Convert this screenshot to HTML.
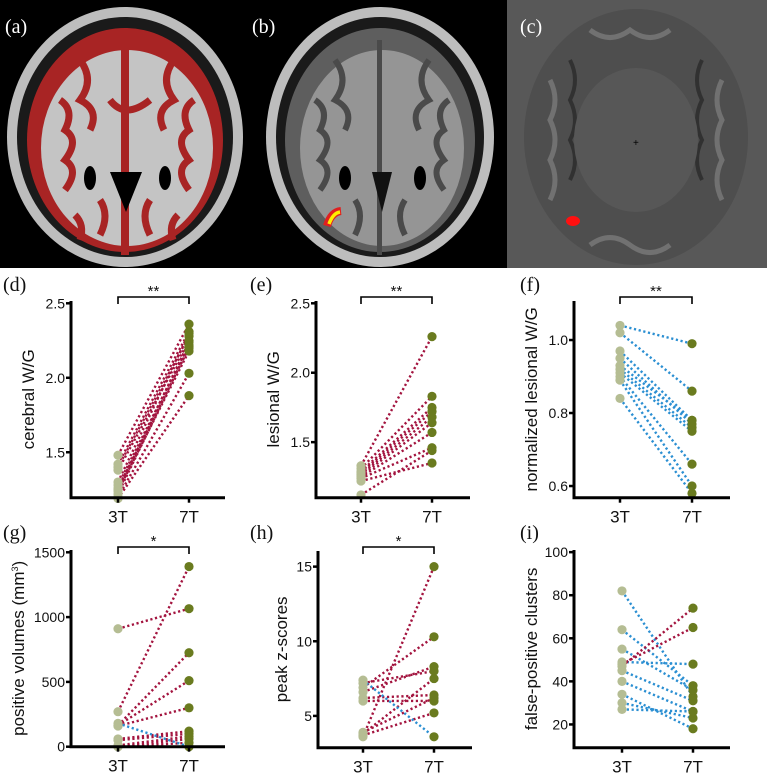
<!DOCTYPE html>
<html><head><meta charset="utf-8">
<style>
html,body{margin:0;padding:0;background:#fff;}
body{width:767px;height:781px;overflow:hidden;position:relative;font-family:"Liberation Sans",sans-serif;}
svg{position:absolute;left:0;top:0;}
</style></head>
<body>
<svg id="fig" width="767" height="781" viewBox="0 0 767 781">
  <g>
    <rect x="0" y="0" width="507" height="268" fill="#000"/>
    <rect x="507" y="0" width="260" height="268" fill="#585858"/>
    <!-- (a) -->
    <g>
      <ellipse cx="125" cy="137" rx="118" ry="130" fill="#bdbdbd"/>
      <ellipse cx="125" cy="137" rx="108" ry="120" fill="#1a1a1a"/>
      <ellipse cx="125" cy="140" rx="98" ry="112" fill="#a82424"/>
      <ellipse cx="127" cy="148" rx="86" ry="98" fill="#c4c4c4"/>
      <g stroke="#a82424" stroke-width="7" fill="none">
        <path d="M60 100 q15 10 5 30 q15 10 0 30 q15 10 0 30"/>
        <path d="M194 100 q-15 10 -5 30 q-15 10 0 30 q-15 10 0 30"/>
        <path d="M80 60 q15 20 0 40 q20 10 10 30"/>
        <path d="M174 60 q-15 20 0 40 q-20 10 -10 30"/>
        <path d="M100 200 q10 15 0 35"/><path d="M150 200 q-10 15 0 35"/>
        <path d="M75 215 q10 10 5 25"/><path d="M178 215 q-10 10 -5 25"/>
        <path d="M110 100 q15 20 40 0"/>
      </g>
      <rect x="121" y="40" width="8" height="215" fill="#a82424"/>
      <path d="M110 172 L126 212 L142 172 Z" fill="#000"/>
      <ellipse cx="90" cy="178" rx="6" ry="12" fill="#000"/>
      <ellipse cx="165" cy="178" rx="6" ry="12" fill="#000"/>
    </g>
    <!-- (b) -->
    <g>
      <ellipse cx="380" cy="137" rx="114" ry="130" fill="#bdbdbd"/>
      <ellipse cx="380" cy="137" rx="104" ry="120" fill="#1a1a1a"/>
      <ellipse cx="380" cy="140" rx="95" ry="112" fill="#5e5e5e"/>
      <ellipse cx="382" cy="148" rx="82" ry="98" fill="#959595"/>
      <g stroke="#4a4a4a" stroke-width="6" fill="none">
        <path d="M315 100 q15 10 5 30 q15 10 0 30 q15 10 0 30"/>
        <path d="M449 100 q-15 10 -5 30 q-15 10 0 30 q-15 10 0 30"/>
        <path d="M335 60 q15 20 0 40 q20 10 10 30"/>
        <path d="M429 60 q-15 20 0 40 q-20 10 -10 30"/>
        <path d="M355 200 q10 15 0 35"/><path d="M405 200 q-10 15 0 35"/>
      </g>
      <rect x="377" y="40" width="5" height="215" fill="#4a4a4a"/>
      <path d="M372 172 L382 212 L392 172 Z" fill="#111"/>
      <ellipse cx="345" cy="178" rx="6" ry="12" fill="#000"/>
      <ellipse cx="420" cy="178" rx="6" ry="12" fill="#000"/>
      <path d="M327 226 q4 -14 14 -15" stroke="#e02020" stroke-width="8" fill="none"/>
      <path d="M329 224 q4 -11 11 -12" stroke="#ffee00" stroke-width="3.5" fill="none"/>
    </g>
    <!-- (c) -->
    <g>
      <ellipse cx="636" cy="137" rx="112" ry="128" fill="#4e4e4e"/>
      <g stroke="#7a7a7a" stroke-width="5" fill="none" opacity="0.8">
        <path d="M550 80 q10 20 0 40 q10 20 0 40 q10 20 0 40"/>
        <path d="M722 80 q-10 20 0 40 q-10 20 0 40 q-10 20 0 40"/>
        <path d="M590 30 q20 15 40 0 q20 15 40 0"/>
        <path d="M590 245 q20 -15 40 0 q20 15 40 0"/>
      </g>
      <g stroke="#2a2a2a" stroke-width="4" fill="none" opacity="0.8">
        <path d="M570 60 q10 20 0 40 q10 20 0 40 q10 20 0 40"/>
        <path d="M702 60 q-10 20 0 40 q-10 20 0 40 q-10 20 0 40"/>
      </g>
      <ellipse cx="636" cy="140" rx="62" ry="72" fill="#575757"/>
      <ellipse cx="573" cy="221" rx="7" ry="5" fill="#ff1010"/>
      <text x="633" y="146" font-size="10" fill="#000">+</text>
    </g>
    <text x="5" y="33" font-family="Liberation Serif,serif" font-size="20" fill="#fff">(a)</text>
    <text x="252" y="33" font-family="Liberation Serif,serif" font-size="20" fill="#fff">(b)</text>
    <text x="520" y="33" font-family="Liberation Serif,serif" font-size="20" fill="#fff">(c)</text>
  </g>
  <g id="charts"></g>
</svg>
<script>
// ---- data ----
const categories = ["3T", "7T"];
const dTicks = [1.5, 2.0, 2.5];
const d3T = [1.48, 1.42, 1.40, 1.38, 1.30, 1.28, 1.26, 1.25, 1.24, 1.22, 1.20, 1.19];
const d7T = [2.36, 2.31, 2.28, 2.25, 2.30, 2.22, 2.20, 2.24, 2.18, 2.21, 2.03, 1.88];
const eTicks = [1.5, 2.0, 2.5];
const e3T = [1.33, 1.31, 1.29, 1.28, 1.27, 1.26, 1.25, 1.24, 1.22, 1.12];
const e7T = [2.26, 1.83, 1.75, 1.72, 1.68, 1.64, 1.57, 1.46, 1.35, 1.44];
const fTicks = [0.6, 0.8, 1.0];
const f3T = [1.04, 1.02, 0.97, 0.95, 0.93, 0.92, 0.91, 0.90, 0.89, 0.84];
const f7T = [0.99, 0.86, 0.78, 0.77, 0.78, 0.76, 0.75, 0.66, 0.60, 0.58];
const gTicks = [0, 500, 1000, 1500];
const g3T = [910, 270, 165, 165, 160, 60, 50, 10, 0, 0, 180];
const g7T = [1065, 1390, 725, 510, 300, 120, 100, 80, 60, 30, 0];
const hTicks = [5, 10, 15];
const h3T = [3.6, 6.9, 6.6, 7.2, 6.0, 3.8, 3.7, 6.2, 7.4, 3.9];
const h7T = [15.0, 10.3, 8.3, 8.0, 6.0, 7.5, 5.2, 6.4, 3.6, 6.2];
const iTicks = [20, 40, 60, 80, 100];
const i3T = [82, 64, 55, 49, 47, 48, 45, 40, 34, 30, 27];
const i7T = [33, 38, 36, 48, 74, 65, 31, 26, 18, 23, 26];

const NS = "http://www.w3.org/2000/svg";
const root = document.getElementById("charts");
function mk(tag, attrs, parent) {
  const e = document.createElementNS(NS, tag);
  for (const k in attrs) e.setAttribute(k, attrs[k]);
  (parent || root).appendChild(e);
  return e;
}
function panel(p) {
  const g = mk("g", {});
  
  
  const y = v => p.yBot - (v - p.vMin) / (p.vMax - p.vMin) * (p.yBot - p.yTop);
  const xs = [p.x3, p.x7];
  for (let i = 0; i < p.a.length; i++) {
    const up = p.b[i] >= p.a[i];
    const l = mk("line", {x1: xs[0], y1: y(p.a[i]), x2: xs[1], y2: y(p.b[i]),
      stroke: up ? "#a3143f" : "#2b8fd2", "stroke-width": 2.4, "stroke-dasharray": "2.2 2.6"}, g);
    
    
  }
  for (let i = 0; i < p.a.length; i++) {
    const c1 = mk("circle", {cx: xs[0], cy: y(p.a[i]), r: 4.6, fill: "#b5bd93"}, g);
    
    
    const c2 = mk("circle", {cx: xs[1], cy: y(p.b[i]), r: 4.6, fill: "#6a7b1f"}, g);
    
    
  }
  const ya = mk("line", {x1: p.ax, y1: p.axTop, x2: p.ax, y2: p.axBot, stroke: "#000", "stroke-width": 3}, g);
  
  
  const xa = mk("line", {x1: p.ax - 1.5, y1: p.axBot, x2: p.axEnd, y2: p.axBot, stroke: "#000", "stroke-width": 3}, g);
  
  
  for (let k = 0; k < 2; k++) {
    mk("line", {x1: xs[k], y1: p.axBot, x2: xs[k], y2: p.axBot + 5, stroke: "#000", "stroke-width": 2.5}, g);
    const t = mk("text", {x: xs[k], y: p.axBot + 25, "font-size": 17, "text-anchor": "middle", fill: "#111"}, g);
    t.textContent = categories[k];
    
    
  }
  p.ticks.forEach(v => {
    mk("line", {x1: p.ax - 5, y1: y(v), x2: p.ax, y2: y(v), stroke: "#000", "stroke-width": 2.5}, g);
    const t = mk("text", {x: p.ax - 6, y: y(v) + 5, "font-size": 14, "text-anchor": "end", fill: "#111"}, g);
    t.textContent = p.fmt(v);
    
    
  });
  const cy = (p.axTop + p.axBot) / 2;
  const tt = mk("text", {x: p.titleX, y: cy, "font-size": 17, "text-anchor": "middle", fill: "#111",
    transform: `rotate(-90 ${p.titleX} ${cy})`}, g);
  tt.textContent = p.title;
  
  
  if (p.title2) {
    const s = mk("tspan", {dy: -6, "font-size": 9}, tt); s.textContent = "3";
    const s2 = mk("tspan", {dy: 6}, tt); s2.textContent = ")";
  }
  if (p.star) {
    const bt = p.brY;
    const br = mk("path", {d: `M${xs[0]} ${bt + 7} V${bt} H${xs[1]} V${bt + 7}`, stroke: "#000", "stroke-width": 1.6, fill: "none"}, g);
    
    
    const st = mk("text", {x: (xs[0] + xs[1]) / 2, y: bt - 1, "font-size": 15, "text-anchor": "middle", fill: "#111"}, g);
    st.textContent = p.star;
    
    
  }
  const lb = mk("text", {x: p.lx, y: p.ly, "font-size": 20, "font-family": "Liberation Serif,serif", fill: "#111"}, g);
  lb.textContent = p.label;
  
  
}
const f1 = v => v.toFixed(1), f0 = v => String(v);
panel({id: "d", a: d3T, b: d7T, ticks: dTicks, fmt: f1, vMin: 1.195, vMax: 2.5, yTop: 303.3, yBot: 497.7,
  ax: 71, axTop: 301, axBot: 497.7, axEnd: 225, x3: 118, x7: 189, title: "cerebral W/G", titleX: 34,
  star: "**", brY: 297, label: "(d)", lx: 3, ly: 291});
panel({id: "e", a: e3T, b: e7T, ticks: eTicks, fmt: f1, vMin: 1.10, vMax: 2.5, yTop: 303.3, yBot: 497.7,
  ax: 316, axTop: 301, axBot: 497.7, axEnd: 470, x3: 361, x7: 432, title: "lesional W/G", titleX: 279,
  star: "**", brY: 297, label: "(e)", lx: 250, ly: 291});
panel({id: "f", a: f3T, b: f7T, ticks: fTicks, fmt: f1, vMin: 0.568, vMax: 1.105, yTop: 301.7, yBot: 497.7,
  ax: 574, axTop: 301, axBot: 497.7, axEnd: 730, x3: 620, x7: 692, title: "normalized lesional W/G", titleX: 537,
  star: "**", brY: 297, label: "(f)", lx: 520, ly: 291});
panel({id: "g", a: g3T, b: g7T, ticks: gTicks, fmt: f0, vMin: 0, vMax: 1500, yTop: 552.3, yBot: 746.7,
  ax: 71, axTop: 550, axBot: 746.7, axEnd: 225, x3: 118, x7: 189, title: "positive volumes (mm", title2: true, titleX: 24,
  star: "*", brY: 547, label: "(g)", lx: 3, ly: 539});
panel({id: "h", a: h3T, b: h7T, ticks: hTicks, fmt: f0, vMin: 2.87, vMax: 16, yTop: 551.7, yBot: 747.7,
  ax: 318, axTop: 551, axBot: 747.7, axEnd: 472, x3: 363, x7: 434, title: "peak  z-scores", titleX: 287,
  star: "*", brY: 547, label: "(h)", lx: 250, ly: 539});
panel({id: "i", a: i3T, b: i7T, ticks: iTicks, fmt: f0, vMin: 9.2, vMax: 101, yTop: 550, yBot: 747.7,
  ax: 574, axTop: 550, axBot: 747.7, axEnd: 730, x3: 622, x7: 693, title: "false-positive clusters", titleX: 537,
  star: null, label: "(i)", lx: 520, ly: 539});
</script>
</body></html>
